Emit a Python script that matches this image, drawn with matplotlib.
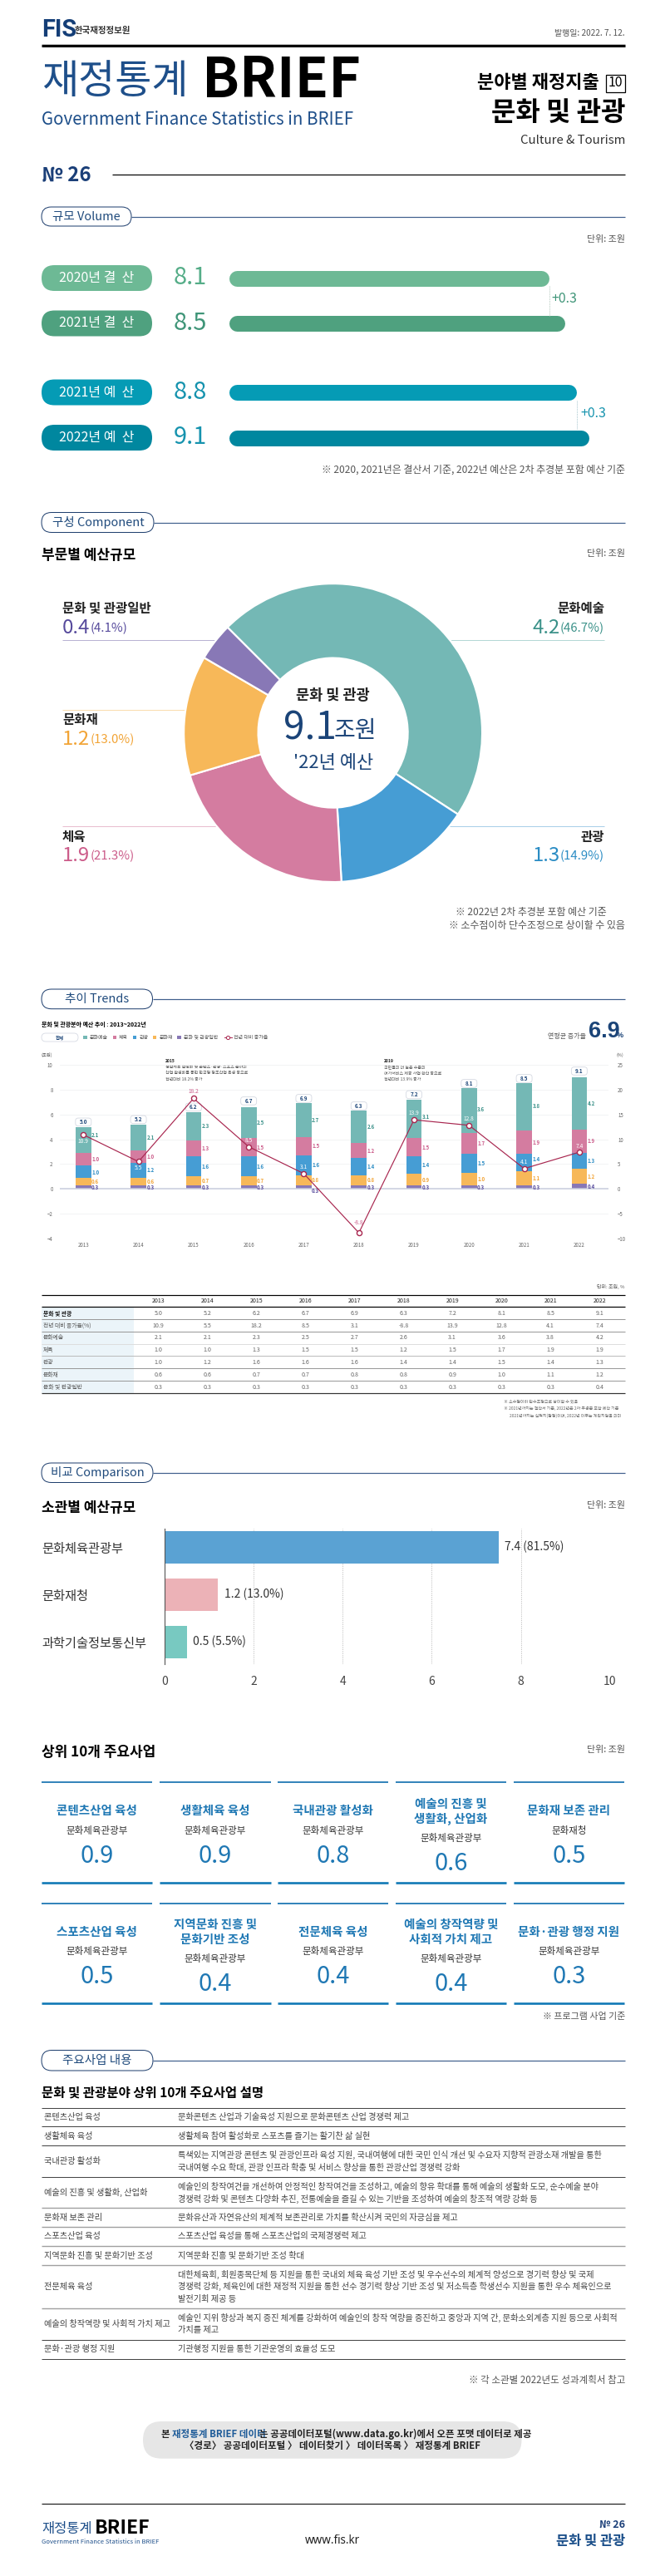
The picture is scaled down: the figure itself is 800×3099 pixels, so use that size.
import matplotlib
matplotlib.use("Agg")
import matplotlib.pyplot as plt
from matplotlib.patches import FancyBboxPatch, Rectangle

KR = ['Noto Sans CJK KR', 'DejaVu Sans']
plt.rcParams['font.family'] = KR

# ---------- data ----------
volume_labels = ['2020년 결  산', '2021년 결  산', '2021년 예  산', '2022년 예  산']
volume_values = [8.1, 8.5, 8.8, 9.1]
volume_deltas = ['+0.3', '+0.3']

donut_names = ['문화예술', '관광', '체육', '문화재', '문화 및 관광일반']
donut_shares = [46.7, 14.9, 21.3, 13.0, 4.1]
donut_amounts = ['4.2', '1.3', '1.9', '1.2', '0.4']

years = [2013, 2014, 2015, 2016, 2017, 2018, 2019, 2020, 2021, 2022]
total = [5.0, 5.2, 6.2, 6.7, 6.9, 6.3, 7.2, 8.1, 8.5, 9.1]
growth = [10.9, 5.5, 18.2, 8.5, 3.1, -8.8, 13.9, 12.8, 4.1, 7.4]
arts = [2.1, 2.1, 2.3, 2.5, 2.7, 2.6, 3.1, 3.6, 3.8, 4.2]
sports = [1.0, 1.0, 1.3, 1.5, 1.5, 1.2, 1.5, 1.7, 1.9, 1.9]
tourism = [1.0, 1.2, 1.6, 1.6, 1.6, 1.4, 1.4, 1.5, 1.4, 1.3]
heritage = [0.6, 0.6, 0.7, 0.7, 0.8, 0.8, 0.9, 1.0, 1.1, 1.2]
general = [0.3, 0.3, 0.3, 0.3, 0.3, 0.3, 0.3, 0.3, 0.3, 0.4]

ministries = ['문화체육관광부', '문화재청', '과학기술정보통신부']
ministry_values = [7.5, 1.2, 0.5]
ministry_labels = ['7.4 (81.5%)', '1.2 (13.0%)', '0.5 (5.5%)']

card_titles = ['콘텐츠산업 육성', '생활체육 육성', '국내관광 활성화', '예술의 진흥 및\n생활화, 산업화', '문화재 보존 관리',
               '스포츠산업 육성', '지역문화 진흥 및\n문화기반 조성', '전문체육 육성', '예술의 창작역량 및\n사회적 가치 제고', '문화·관광 행정 지원']
card_orgs = ['문화체육관광부', '문화체육관광부', '문화체육관광부', '문화체육관광부', '문화재청',
             '문화체육관광부', '문화체육관광부', '문화체육관광부', '문화체육관광부', '문화체육관광부']
card_values = ['0.9', '0.9', '0.8', '0.6', '0.5', '0.5', '0.4', '0.4', '0.4', '0.3']

desc_names = ['콘텐츠산업 육성', '생활체육 육성', '국내관광 활성화', '예술의 진흥 및 생활화, 산업화', '문화재 보존 관리',
              '스포츠산업 육성', '지역문화 진흥 및 문화기반 조성', '전문체육 육성', '예술의 창작역량 및 사회적 가치 제고', '문화·관광 행정 지원']
desc_texts = [
    ['문화콘텐츠 산업과 기술육성 지원으로 문화콘텐츠 산업 경쟁력 제고'],
    ['생활체육 참여 활성화로 스포츠를 즐기는 활기찬 삶 실현'],
    ['특색있는 지역관광 콘텐츠 및 관광인프라 육성 지원, 국내여행에 대한 국민 인식 개선 및 수요자 지향적 관광소재 개발을 통한',
     '국내여행 수요 확대, 관광 인프라 확충 및 서비스 향상을 통한 관광산업 경쟁력 강화'],
    ['예술인의 창작여건을 개선하여 안정적인 창작여건을 조성하고, 예술의 향유 확대를 통해 예술의 생활화 도모, 순수예술 분야',
     '경쟁력 강화 및 콘텐츠 다양화 추진, 전통예술을 즐길 수 있는 기반을 조성하여 예술의 창조적 역량 강화 등'],
    ['문화유산과 자연유산의 체계적 보존관리로 가치를 확산시켜 국민의 자긍심을 제고'],
    ['스포츠산업 육성을 통해 스포츠산업의 국제경쟁력 제고'],
    ['지역문화 진흥 및 문화기반 조성 확대'],
    ['대한체육회, 회원종목단체 등 지원을 통한 국내외 체육 육성 기반 조성 및 우수선수의 체계적 양성으로 경기력 향상 및 국제',
     '경쟁력 강화, 체육인에 대한 재정적 지원을 통한 선수 경기력 향상 기반 조성 및 저소득층 학생선수 지원을 통한 우수 체육인으로',
     '발전기회 제공 등'],
    ['예술인 지위 향상과 복지 증진 체계를 강화하여 예술인의 창작 역량을 증진하고 중앙과 지역 간, 문화소외계층 지원 등으로 사회적',
     '가치를 제고'],
    ['기관행정 지원을 통한 기관운영의 효율성 도모'],
]

# ---------- colours ----------
NAVY = '#1B4478'
TEAL, BLUE, PINK, ORANGE, PURPLE = '#74B8B5', '#469DD4', '#D47CA0', '#F7B859', '#8878B6'
TEAL_T, BLUE_T, PINK_T, ORANGE_T, PURPLE_T = '#3B9189', '#2A8CC4', '#CC5C8A', '#F2A436', '#564A9C'
GRAY_T = '#555555'
CRIMSON = '#A8264F'
CARD = '#1F78B4'

W, H = 800, 3099
fig = plt.figure(figsize=(W / 100, H / 100), dpi=100, facecolor='white')
page = fig.add_axes([0, 0, 1, 1])
page.set_xlim(0, W)
page.set_ylim(H, 0)
page.axis('off')
renderer = fig.canvas.get_renderer()


def sub(x0, y0, x1, y1):
    a = fig.add_axes([x0 / W, 1 - y1 / H, (x1 - x0) / W, (y1 - y0) / H])
    a.patch.set_alpha(0)
    return a


def t(x, y, s, px, color='#222222', ha='left', weight='normal', va='center', family=None, ax=None):
    return (ax or page).text(x, y, s, fontsize=px * 0.72, color=color, ha=ha, va=va, weight=weight,
                             family=family or KR, zorder=10)


def rule(x0, x1, y, color='black', px=1.0, ls='-'):
    page.plot([x0, x1], [y, y], color=color, lw=px * 0.72, ls=ls, solid_capstyle='butt')


def pill(x0, y0, x1, y1, fc, ec='none', lw=1.0, z=3):
    r = (y1 - y0) / 2
    page.add_patch(FancyBboxPatch((x0, y0), x1 - x0, y1 - y0, boxstyle=f'round,pad=0,rounding_size={r}',
                                  fc=fc, ec=ec, lw=lw * 0.72, zorder=z))


def section(label, x1, y0, y1, cx):
    rule(x1, 752, (y0 + y1) / 2, '#3F5F8C', 1.2)
    pill(50, y0, x1, y1, 'white', '#1F3F6E', 1.0)
    t(cx, (y0 + y1) / 2, label, 14.5, '#1F4A7C', 'center')


def width(o):
    return o.get_window_extent(renderer).width


def pair(x, y, a, b, color, ha):
    big = t(x, y, a, 24, color, 'left', 'light')
    small = t(x, y + 1, b, 15, color, 'left', 'light')
    wa, wb = width(big), width(small)
    if ha == 'right':
        big.set_x(x - wa - wb)
        small.set_x(x - wb)
    else:
        small.set_x(x + wa)


# ---------- header ----------
t(50, 36, 'FIS', 29, '#143E77', weight='bold', family=['Roboto', 'DejaVu Sans'])
t(90, 37, '한국재정정보원', 10.5, '#333333', weight='bold')
t(752, 40, '발행일: 2022. 7. 12.', 10, '#555555', 'right')
rule(50, 752, 52.5, '#BBBBBB', 1)
rule(50, 752, 54.5, 'black', 3)
t(50, 98, '재정통계', 48, '#1E4F8A', weight='light')
t(243, 98, 'BRIEF', 66, 'black', weight='bold')
t(50, 144, 'Government Finance Statistics in BRIEF', 20.5, '#1E4F8A', weight='light')
t(574, 99, '분야별 재정지출', 22, 'black', weight='bold')
page.add_patch(Rectangle((729, 90), 22.5, 21, fc='white', ec='black', lw=0.9))
t(740, 100, '10', 16, 'black', 'center', 'normal')
t(752, 136, '문화 및 관광', 32, 'black', 'right', 'bold')
t(752, 169, 'Culture & Tourism', 15, '#333333', 'right', 'light')
t(50, 210, '№ 26', 24, '#1B3F78', weight='bold')
rule(135, 752, 210, 'black', 1.2)

# ---------- volume ----------
section('규모 Volume', 158, 249, 272, 104)
t(752, 288, '단위: 조원', 11, GRAY_T, 'right')
vol_rows = [334.5, 389, 472, 526.5]
vol_colors = ['#6DB995', '#4FA17F', '#059BB5', '#00879F']
vol_text = ['#55AD88', '#3F9578', '#1693AE', '#1693AE']
PX_PER = 47.6
ax = sub(275, 300, 752, 550)
ax.set_xlim(0, (752 - 275) / PX_PER)
ax.set_ylim(550, 300)
ax.axis('off')
cap = 9.5 / PX_PER
for y, v, c, tc, lab in zip(vol_rows, volume_values, vol_colors, vol_text, volume_labels):
    ax.hlines(y, cap, v - cap, color=c, lw=19 * 0.72, capstyle='round')
    pill(50, y - 15.5, 183, y + 15.5, c)
    t(116, y, lab, 16, 'white', 'center')
    t(229, y, f'{v:.1f}', 29, tc, 'center', 'light')
ax.plot([volume_values[0]] * 2, [vol_rows[0] + 9.5, vol_rows[1] - 9.5], color='#B5C9BF', lw=0.7, ls=(0, (1, 1)))
ax.plot([volume_values[2]] * 2, [vol_rows[2] + 9.5, vol_rows[3] - 9.5], color='#A9C7CF', lw=0.7, ls=(0, (1, 1)))
t(volume_values[0] + 0.06, 359, volume_deltas[0], 16, '#3F9578', ax=ax)
t(volume_values[2] + 0.1, 497, volume_deltas[1], 16, '#1693AE', ax=ax)
t(752, 565, '※ 2020, 2021년은 결산서 기준, 2022년 예산은 2차 추경분 포함 예산 기준', 12, GRAY_T, 'right')

# ---------- donut ----------
section('구성 Component', 185, 616.5, 640.5, 118)
t(50, 668, '부문별 예산규모', 17, 'black', weight='bold')
t(752, 665.5, '단위: 조원', 11, GRAY_T, 'right')
R, r_in = 179.5, 90
cx, cy = 400.6, 881.6
ax = sub(cx - R - 2, cy - R - 2, cx + R + 2, cy + R + 2)
ax.pie(donut_shares, colors=[TEAL, BLUE, PINK, ORANGE, PURPLE], startangle=135, counterclock=False,
       radius=R / (R + 2), wedgeprops=dict(width=(R - r_in) / (R + 2), edgecolor='white', linewidth=1.6))
ax.set_xlim(-1, 1)
ax.set_ylim(-1, 1)

rule(75, 262, 769.5, '#B8B3D3', 1)
rule(540, 727, 769.5, '#B4D8D5', 1)
rule(75, 223, 854, '#F9DDAE', 1)
rule(75, 262, 994, '#E8BDCF', 1)
rule(540, 727, 994, '#A8CFE8', 1)
t(75, 732, donut_names[4], 15.5, '#222222', weight='bold')
t(727, 732, donut_names[0], 15.5, '#222222', 'right', 'bold')
t(75, 866.5, donut_names[3], 15.5, '#222222', weight='bold')
t(75, 1006.6, donut_names[2], 15.5, '#222222', weight='bold')
t(727, 1006.6, donut_names[1], 15.5, '#222222', 'right', 'bold')
pair(75, 755, donut_amounts[4], f'({donut_shares[4]}%)', PURPLE_T, 'left')
pair(727, 755, donut_amounts[0], f'({donut_shares[0]}%)', TEAL_T, 'right')
pair(75, 889, donut_amounts[3], f'({donut_shares[3]:.1f}%)', ORANGE_T, 'left')
pair(75, 1029, donut_amounts[2], f'({donut_shares[2]}%)', PINK_T, 'left')
pair(727, 1029, donut_amounts[1], f'({donut_shares[1]}%)', BLUE_T, 'right')
t(400.5, 837, '문화 및 관광', 17.5, '#222222', 'center', 'bold')
t(373, 876, '9.1', 46, NAVY, 'center', 'normal')
t(427, 879, '조원', 28, NAVY, 'center')
t(401, 918, "'22년 예산", 22, NAVY, 'center')
t(548, 1097.5, '※ 2022년 2차 추경분 포함 예산 기준', 12, GRAY_T)
t(752, 1113.6, '※ 소수점이하 단수조정으로 상이할 수 있음', 12, GRAY_T, 'right')

# ---------- trends ----------
section('추이 Trends', 183.5, 1190, 1213.7, 117)
t(50, 1233, '문화 및 관광분야 예산 추이 : 2013~2022년', 7, 'black', weight='bold')
pill(50, 1243, 94, 1253, 'white', '#D5D9E2', 0.8)
t(72, 1248, '합계', 5.5, NAVY, 'center', 'bold')
leg = [('문화예술', TEAL, 102.3, 107.5), ('체육', PINK, 138, 143), ('관광', BLUE, 162, 167.7),
       ('문화재', ORANGE, 186, 191.7), ('문화 및 관광일반', PURPLE, 215.7, 221.3)]
for name, c, xs, xt in leg:
    page.add_patch(Rectangle((xs - 2.3, 1245.7), 4.6, 4.6, fc=c, ec='none'))
    t(xt, 1248, name, 6, GRAY_T)
page.plot([269.5, 279], [1247.5, 1247.5], color=CRIMSON, lw=0.7)
page.plot([274], [1247.5], 'o', ms=3, mfc='white', mec=CRIMSON, mew=0.7)
t(280.7, 1248, '전년 대비 증가율', 6, GRAY_T)
t(50, 1269, '(조원)', 5.5, GRAY_T)
t(750, 1269, '(%)', 5.5, GRAY_T, 'right')
t(705, 1246.7, '연평균 증가율', 8, GRAY_T, 'right')
t(708, 1241, '6.9', 27, NAVY, weight='bold', family=['Liberation Sans', 'DejaVu Sans'])
t(742, 1246, '%', 9, NAVY, weight='bold', family=['Liberation Sans', 'DejaVu Sans'])

for x, lines in ((199, ['2015', '생활체육 활성화 및 콘텐츠·관광·스포츠 분야의', '산업 활성화를 통한 한국형 창조산업 육성 등으로', '전년대비 18.2% 증가']),
                 (462, ['2019', '국민들의 더 높은 수준의', '여가서비스 제공 사업 확산 등으로', '전년대비 13.9% 증가'])):
    for i, (ln, yy) in enumerate(zip(lines, (1276.7, 1283.7, 1291, 1298))):
        t(x, yy, ln, 5, '#222222' if i == 0 else '#555555', weight='bold' if i == 0 else 'normal')

axb = sub(72, 1280.7, 732, 1490.3)
axb.set_xlim(-0.427, 9.53)
axb.set_ylim(-4, 10)
xpos = list(range(len(years)))
stack = [(general, PURPLE, PURPLE_T), (heritage, ORANGE, ORANGE_T), (tourism, BLUE, BLUE_T),
         (sports, PINK, PINK_T), (arts, TEAL, TEAL_T)]
PX_Y = 14.97
PX_X = 66.3
shift = {(0, 4): 5.7, (0, 2): -1.5, (4, 0): -4, (6, 4): 2.3, (8, 2): 4.0, (7, 4): 1.5, (8, 4): 1.5}
bottom = [0.0] * len(years)
for k, (vals, c, tc) in enumerate(stack):
    axb.bar(xpos, vals, width=18.7 / PX_X, bottom=bottom, color=c, edgecolor='none', zorder=3)
    for i, (v, b) in enumerate(zip(vals, bottom)):
        yc = b + v / 2 + shift.get((i, k), 0) / PX_Y
        axb.text(i + 14.3 / PX_X, yc, f'{v:.1f}', fontsize=4.4, color=tc, ha='center', va='center', zorder=6,
                 weight='bold')
    bottom = [b + v for b, v in zip(bottom, vals)]
for i, v in enumerate(total):
    yc = v + 5.7 / PX_Y
    axb.add_patch(FancyBboxPatch((i - 9.5 / PX_X, yc - 4.8 / PX_Y), 19 / PX_X, 9.6 / PX_Y,
                                 boxstyle='round,pad=0,rounding_size=0.05', mutation_aspect=PX_X / PX_Y,
                                 fc='white', ec='#D5D9E2', lw=0.6, zorder=7))
    axb.text(i, yc, f'{v:.1f}', fontsize=4.5, color=NAVY, ha='center', va='center', weight='bold', zorder=8)
axb.set_yticks(range(-4, 11, 2))
axb.set_xticks(xpos, [str(y) for y in years])
axb.tick_params(length=0, labelsize=4.4, labelcolor='#666666')
axb.tick_params(axis='x', pad=2.5)
axb.tick_params(axis='y', pad=6)
axb.grid(axis='y', color='#F0F1F3', lw=0.6, zorder=0)
axb.set_axisbelow(True)
for s in axb.spines.values():
    s.set_visible(False)
axb.axhline(0, color='#C9CEDE', lw=1.1, zorder=4)

axl = axb.twinx()
axl.set_ylim(-10, 25)
axl.set_yticks(range(-10, 26, 5))
axl.tick_params(length=0, labelsize=4.4, labelcolor='#666666', pad=8)
for s in axl.spines.values():
    s.set_visible(False)
axl.plot(xpos, growth, color=CRIMSON, lw=0.85, marker='o', ms=4.4, mfc='white', mec=CRIMSON, mew=1.0, zorder=9)
g_off = [8, 8, -8, -8, -8, -12, -8, -8, -8, -7]
for i, (g, d) in enumerate(zip(growth, g_off)):
    hl = g == 18.2 or g == -8.8
    axl.text(i, g - d / 6.0, f'{g:.1f}', fontsize=4.8, color=('#CC5C8A' if hl else 'white'), ha='center',
             va='center', zorder=9)

# ---------- table ----------
t(752, 1548, '단위: 조원, %', 6, '#555555', 'right')
row_y = [1580, 1594.7, 1609.3, 1624.3, 1639, 1653.7, 1668.7]
col_x = [190.6, 249.4, 308.6, 367.4, 426.7, 485.4, 544.2, 603.5, 662.2, 721.5]
page.add_patch(Rectangle((50, 1572.3), 111, 104, fc='#EBF4F9', ec='none'))
rule(50, 752, 1557.5, 'black', 1.2)
rule(50, 752, 1572.3, 'black', 1.2)
for yy, c in zip((1587.3, 1602, 1616.7, 1631.3, 1646, 1661.3), ('#999999', '#999999', '#DDDDDD', '#BBBBBB', '#999999', '#999999')):
    rule(50, 752, yy, c, 1.0)
rule(50, 752, 1676.3, '#333333', 1.2)
for x, y in zip(col_x, years):
    t(x, 1565, str(y), 7, '#222222', 'center')
table_names = ['문화 및 관광', '전년 대비 증가율(%)', '문화예술', '체육', '관광', '문화재', '문화 및 관광일반']
for i, (name, vals) in enumerate(zip(table_names, (total, growth, arts, sports, tourism, heritage, general))):
    t(52, row_y[i], name, 6.8, '#111111' if i == 0 else '#555555', weight='bold' if i == 0 else 'normal')
    for x, v in zip(col_x, vals):
        t(x, row_y[i], f'{v:.1f}', 7, '#666666', 'center')
t(606, 1686, '※ 소수점이하 단수조정으로 상이할 수 있음', 5, '#666666')
t(606, 1694.7, '※ 2021년까지는 결산서 기준, 2022년은 2차 추경분 포함 예산 기준', 5, '#666666')
t(613, 1703.7, '2021년까지는 실적치(잠정)이며, 2022년 이후는 계획치임을 의미', 5, '#666666')

# ---------- comparison ----------
section('비교 Comparison', 184, 1760, 1783.5, 117)
t(50, 1814, '소관별 예산규모', 17, 'black', weight='bold')
t(752, 1811, '단위: 조원', 11, GRAY_T, 'right')
axh = sub(197.7, 1839.5, 733.8, 2002)
axh.set_xlim(0, 10)
axh.set_ylim(2.467, -0.384)
axh.barh(range(3), ministry_values, height=0.68, color=['#5AA2D3', '#ECB2B7', '#78C9C1'], zorder=3)
axh.set_yticks(range(3), ministries)
axh.set_xticks([0, 2, 4, 6, 8, 10])
axh.tick_params(axis='y', length=0, labelsize=11, labelcolor='#333333', pad=147.7 * 0.72)
for lb in axh.get_yticklabels():
    lb.set_ha('left')
axh.tick_params(axis='x', length=0, labelsize=10, labelcolor='#444444', pad=10)
axh.grid(axis='x', color='#BBBBBB', lw=0.6, ls=(0, (1.5, 1.5)), zorder=1)
for k, s in axh.spines.items():
    s.set_visible(k == 'left')
axh.spines['left'].set_color('#555555')
axh.spines['left'].set_linewidth(0.8)
axh.spines['left'].set_zorder(5)
for i, (v, lb) in enumerate(zip(ministry_values, ministry_labels)):
    axh.text(v + 0.14, i, lb, fontsize=10, color='#333333', va='center', ha='left', zorder=6)

t(50, 2108, '상위 10개 주요사업', 17, 'black', weight='bold')
t(752, 2105, '단위: 조원', 11, GRAY_T, 'right')
card_x = [(50, 183.4), (192, 325.5), (334, 467), (475.7, 609), (617.8, 751.3)]
for idx, (ti, org, val) in enumerate(zip(card_titles, card_orgs, card_values)):
    row, col = divmod(idx, 5)
    x0, x1 = card_x[col]
    xc = (x0 + x1) / 2
    top, bot = [(2144.3, 2265.4), (2289.7, 2410)][row]
    rule(x0, x1, top, '#1F78B4', 1.8)
    rule(x0, x1, bot, '#0F78B5', 2.6)
    base = top
    lines = ti.split('\n')
    if len(lines) == 1:
        t(xc, base + 35, lines[0], 14.5, CARD, 'center', 'bold')
        t(xc, base + 58, org, 11.5, '#333333', 'center')
        t(xc, base + 88.5, val, 29, CARD, 'center', 'light')
    else:
        t(xc, base + 26.7, lines[0], 14.5, CARD, 'center', 'bold')
        t(xc, base + 44.3, lines[1], 14.5, CARD, 'center', 'bold')
        t(xc, base + 66.7, org, 11.5, '#333333', 'center')
        t(xc, base + 97.7, val, 29, CARD, 'center', 'light')
t(752, 2425.6, '※ 프로그램 사업 기준', 11, GRAY_T, 'right')

# ---------- program descriptions ----------
section('주요사업 내용', 184, 2466.5, 2491, 117)
t(50, 2518, '문화 및 관광분야 상위 10개 주요사업 설명', 15.5, 'black', weight='bold')
lines_y = [2535.5, 2558.3, 2581.4, 2619, 2656.3, 2679, 2702, 2725, 2776.7, 2815, 2838]
for i, yy in enumerate(lines_y):
    rule(50, 752, yy, '#444444' if i in (0, 10, 1, 2, 3, 9) else '#A0A0A0', 1.0 if i in (0, 10, 1, 2, 3, 9) else 1.4)
for i, (nm, ds) in enumerate(zip(desc_names, desc_texts)):
    y0, y1 = lines_y[i], lines_y[i + 1]
    ym = (y0 + y1) / 2
    t(53, ym, nm, 10.2, '#444444')
    for j, ln in enumerate(ds):
        t(214, ym + (j - (len(ds) - 1) / 2) * 14.7, ln, 10.2, '#444444')
t(752, 2863, '※ 각 소관별 2022년도 성과계획서 참고', 11.5, GRAY_T, 'right')

pill(172, 2913, 627.5, 2957.7, '#E6E6E6', z=2)
t(194, 2928.6, '본', 11.5, '#222222', weight='bold')
t(207, 2928.6, '재정통계 BRIEF 데이터', 11.5, '#1F5C99', weight='bold')
t(312, 2928.6, '는 공공데이터포털(www.data.go.kr)에서 오픈 포맷 데이터로 제공', 11.5, '#222222', weight='bold')
t(400, 2942, '〈경로〉 공공데이터포털 〉 데이터찾기 〉 데이터목록 〉 재정통계 BRIEF', 11.5, '#222222', 'center', 'bold')

# ---------- footer ----------
rule(50, 752, 3012.4, 'black', 1)
t(50, 3042, '재정통계', 16.5, '#1E4F8A', weight='light')
t(114, 3042, 'BRIEF', 23, 'black', weight='bold')
t(50, 3058, 'Government Finance Statistics in BRIEF', 7.6, '#1E4F8A')
t(400, 3056, 'www.fis.kr', 13.5, '#222222', 'center', 'bold', family=['Noto Sans', 'DejaVu Sans'])
t(752, 3037.6, '№ 26', 12.5, '#1B3F78', 'right', 'bold')
t(752, 3056.6, '문화 및 관광', 16.5, '#1B4F8A', 'right', 'bold')

fig.savefig('out.png', dpi=100, facecolor='white')
